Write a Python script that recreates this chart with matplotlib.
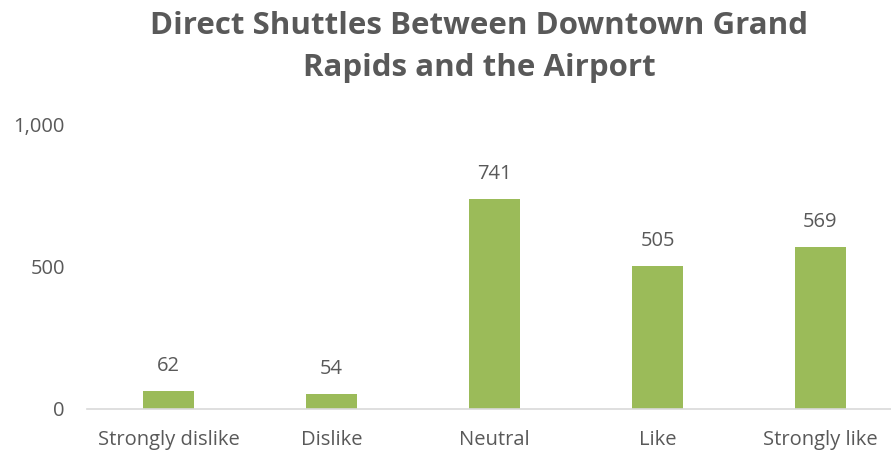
import matplotlib.pyplot as plt

categories = ["Strongly dislike", "Dislike", "Neutral", "Like", "Strongly like"]
counts = [62, 54, 741, 505, 569]
yticks = [0, 500, 1000]
ytick_labels = ["0", "500", "1,000"]

TEXT = "#595959"
BAR = "#9BBB59"
FONT = "Open Sans"

fig = plt.figure(figsize=(8.91, 4.54), dpi=100)
W, H = 891, 454
ax = fig.add_axes([87 / W, 45 / H, 815 / W, 284 / H])

x = list(range(len(categories)))
ax.bar(x, counts, width=0.31, color=BAR, zorder=2)
for xi, v in zip(x, counts):
    ax.annotate(str(v), (xi, v), xytext=(0, 18), textcoords="offset points",
                ha="center", va="center", fontsize=14.5, color=TEXT, family=FONT)

ax.set_xlim(-0.5, 4.5)
ax.set_ylim(0, 1000)
ax.set_xticks(x)
ax.set_xticklabels(categories, fontsize=14.5, color=TEXT, family=FONT)
ax.set_yticks(yticks)
ax.set_yticklabels(ytick_labels, fontsize=14.5, color=TEXT, family=FONT)
ax.tick_params(axis="x", length=0, pad=15)
ax.tick_params(axis="y", length=0, pad=16)
for s in ["top", "right", "left"]:
    ax.spines[s].set_visible(False)
ax.spines["bottom"].set_color("#D9D9D9")
ax.spines["bottom"].set_linewidth(1.2)

fig.text(479 / W, 1 - 47 / H, "Direct Shuttles Between Downtown Grand\nRapids and the Airport",
         ha="center", va="center", fontsize=22.5, fontweight="bold", color=TEXT,
         family=FONT, linespacing=1.5)

fig.savefig("out.png", dpi=100)
